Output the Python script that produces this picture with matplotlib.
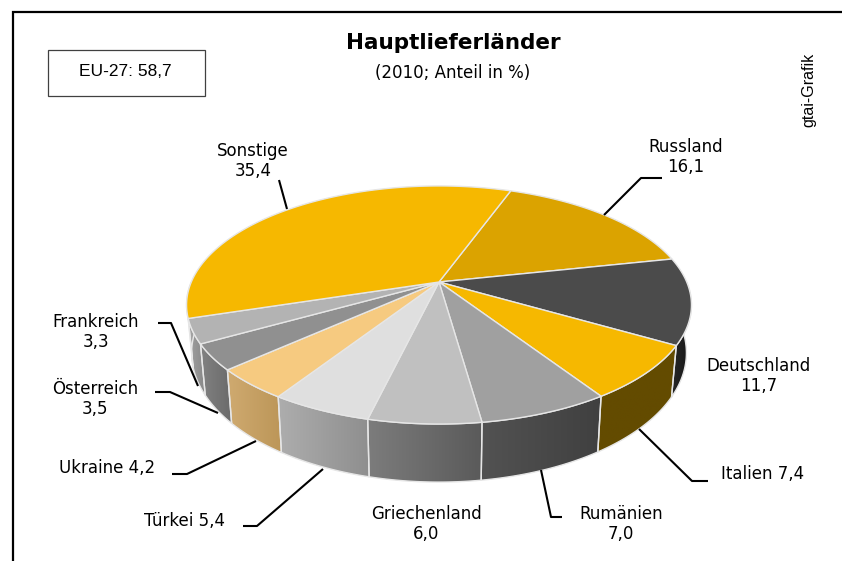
#!/usr/bin/env python3
"""Hauptlieferlaender: 3D-look pie drawn by hand with a projected disc."""

import matplotlib

matplotlib.use("Agg")

import matplotlib.colors as mcolors
import matplotlib.pyplot as plt
import numpy as np
from matplotlib.patches import Polygon, Rectangle

COUNTRIES = ["Russland", "Deutschland", "Italien", "Rumänien", "Griechenland",
             "Türkei", "Ukraine", "Österreich", "Frankreich", "Sonstige"]
SHARES = [16.1, 11.7, 7.4, 7.0, 6.0, 5.4, 4.2, 3.5, 3.3, 35.4]
TOP_COLORS = ["#DBA300", "#4B4B4B", "#F6B800", "#A0A0A0", "#C0C0C0",
              "#DFDFDF", "#F6CA80", "#909090", "#B3B3B3", "#F6B800"]
SIDE_LEFT = ["#8A6A00", "#262626", "#634B00", "#525252", "#7C7C7C",
             "#ADADAD", "#CFAA70", "#828282", "#A2A2A2", "#A2A2A2"]
SIDE_RIGHT = ["#8A6A00", "#161616", "#634B00", "#404040", "#5A5A5A",
              "#8F8F8F", "#BC9658", "#6A6A6A", "#868686", "#A2A2A2"]
LABELS = ["Russland\n16,1", "Deutschland\n11,7", "Italien 7,4", "Rumänien\n7,0",
          "Griechenland\n6,0", "Türkei 5,4", "Ukraine 4,2", "Österreich\n3,5",
          "Frankreich\n3,3", "Sonstige\n35,4"]
LABEL_POS = [(686, 157), (759, 376), (763, 474), (621, 524), (426, 524),
             (184, 521), (107, 468), (95, 399), (96, 332), (253, 161)]
LEADERS = [
    [(662, 178), (641, 178), (604, 215)],
    [(708, 481), (692, 481), (639, 429)],
    [(562, 517), (551, 517), (541, 470)],
    [(243, 526), (257, 526), (323, 469)],
    [(172, 474), (187, 474), (256, 441)],
    [(155, 392), (170, 392), (218, 413)],
    [(158, 323), (171, 323), (198, 386)],
    [(279, 180), (287, 209)],
]

START_DEG = 20.0
CX, CY = 439.0, 282.0
K, A, B = 0.193, 114.6, 247.7
EDGE = "#E6E6E6"


def top_xy(deg):
    t = np.radians(deg)
    u, v = np.sin(t), -np.cos(t)
    w = 1 - K * v
    return CX + B * u / w, CY + A * v / w


def bottom_xy(deg):
    x, y = top_xy(deg)
    return CX + 0.98 * (x - CX), CY + 46 + 1.085 * (y - CY)


plt.rcParams["font.family"] = ["DejaVu Sans"]
fig = plt.figure(figsize=(8.42, 5.61), dpi=100)
ax = fig.add_axes([0, 0, 1, 1])
ax.set_xlim(0, 842)
ax.set_ylim(561, 0)
ax.axis("off")

# frame
ax.plot([12.5, 12.5, 842], [561, 12, 12], color="black", lw=1.6, solid_joinstyle="miter", zorder=1)

edges = START_DEG + np.cumsum([0] + SHARES) * 3.6

# side wall, only the part that faces the viewer
for i in range(len(SHARES)):
    a0, a1 = max(edges[i], 90.0), min(edges[i + 1], 270.0)
    if a1 <= a0:
        continue
    ang = np.linspace(a0, a1, 80)
    tx, ty = top_xy(ang)
    bx, by = bottom_xy(ang)
    pts = np.column_stack([np.r_[tx, bx[::-1]], np.r_[ty, by[::-1]]])
    poly = Polygon(pts, closed=True, fc="none", ec=EDGE, lw=1.0, zorder=3)
    ax.add_patch(poly)
    cmap = mcolors.LinearSegmentedColormap.from_list("s", [SIDE_LEFT[i], SIDE_RIGHT[i]])
    im = ax.imshow(np.linspace(0, 1, 64).reshape(1, -1), cmap=cmap, aspect="auto",
                   extent=(pts[:, 0].min(), pts[:, 0].max(), pts[:, 1].max(), pts[:, 1].min()),
                   zorder=2, interpolation="bilinear")
    im.set_clip_path(poly)
ax.set_xlim(0, 842)
ax.set_ylim(561, 0)

# top face
for i in range(len(SHARES)):
    ang = np.linspace(edges[i], edges[i + 1], 120)
    x, y = top_xy(ang)
    ax.add_patch(Polygon(np.column_stack([np.r_[CX, x], np.r_[CY, y]]), closed=True,
                         fc=TOP_COLORS[i], ec=EDGE, lw=1.0, zorder=4))

for path in LEADERS:
    xs, ys = zip(*path)
    ax.plot(xs, ys, color="black", lw=1.5, zorder=5, solid_capstyle="butt")

for text, (x, y) in zip(LABELS, LABEL_POS):
    ax.text(x, y, text, ha="center", va="center", fontsize=12, color="black",
            linespacing=1.12, zorder=6)

ax.text(453, 43, "Hauptlieferländer", ha="center", va="center", fontsize=15.5,
        fontweight="bold", zorder=6)
ax.text(453, 73, "(2010; Anteil in %)", ha="center", va="center", fontsize=12, zorder=6)
ax.add_patch(Rectangle((47.5, 49.5), 157, 46, fc="white", ec="#404040", lw=0.9, zorder=6))
ax.text(125, 71, "EU-27: 58,7", ha="center", va="center", fontsize=12.5,
        family="Liberation Sans", zorder=7)
ax.text(809, 90, "gtai-Grafik", ha="center", va="center", rotation=90, fontsize=11.5,
        family="Liberation Sans", zorder=6)

fig.savefig("out.png", dpi=100)
